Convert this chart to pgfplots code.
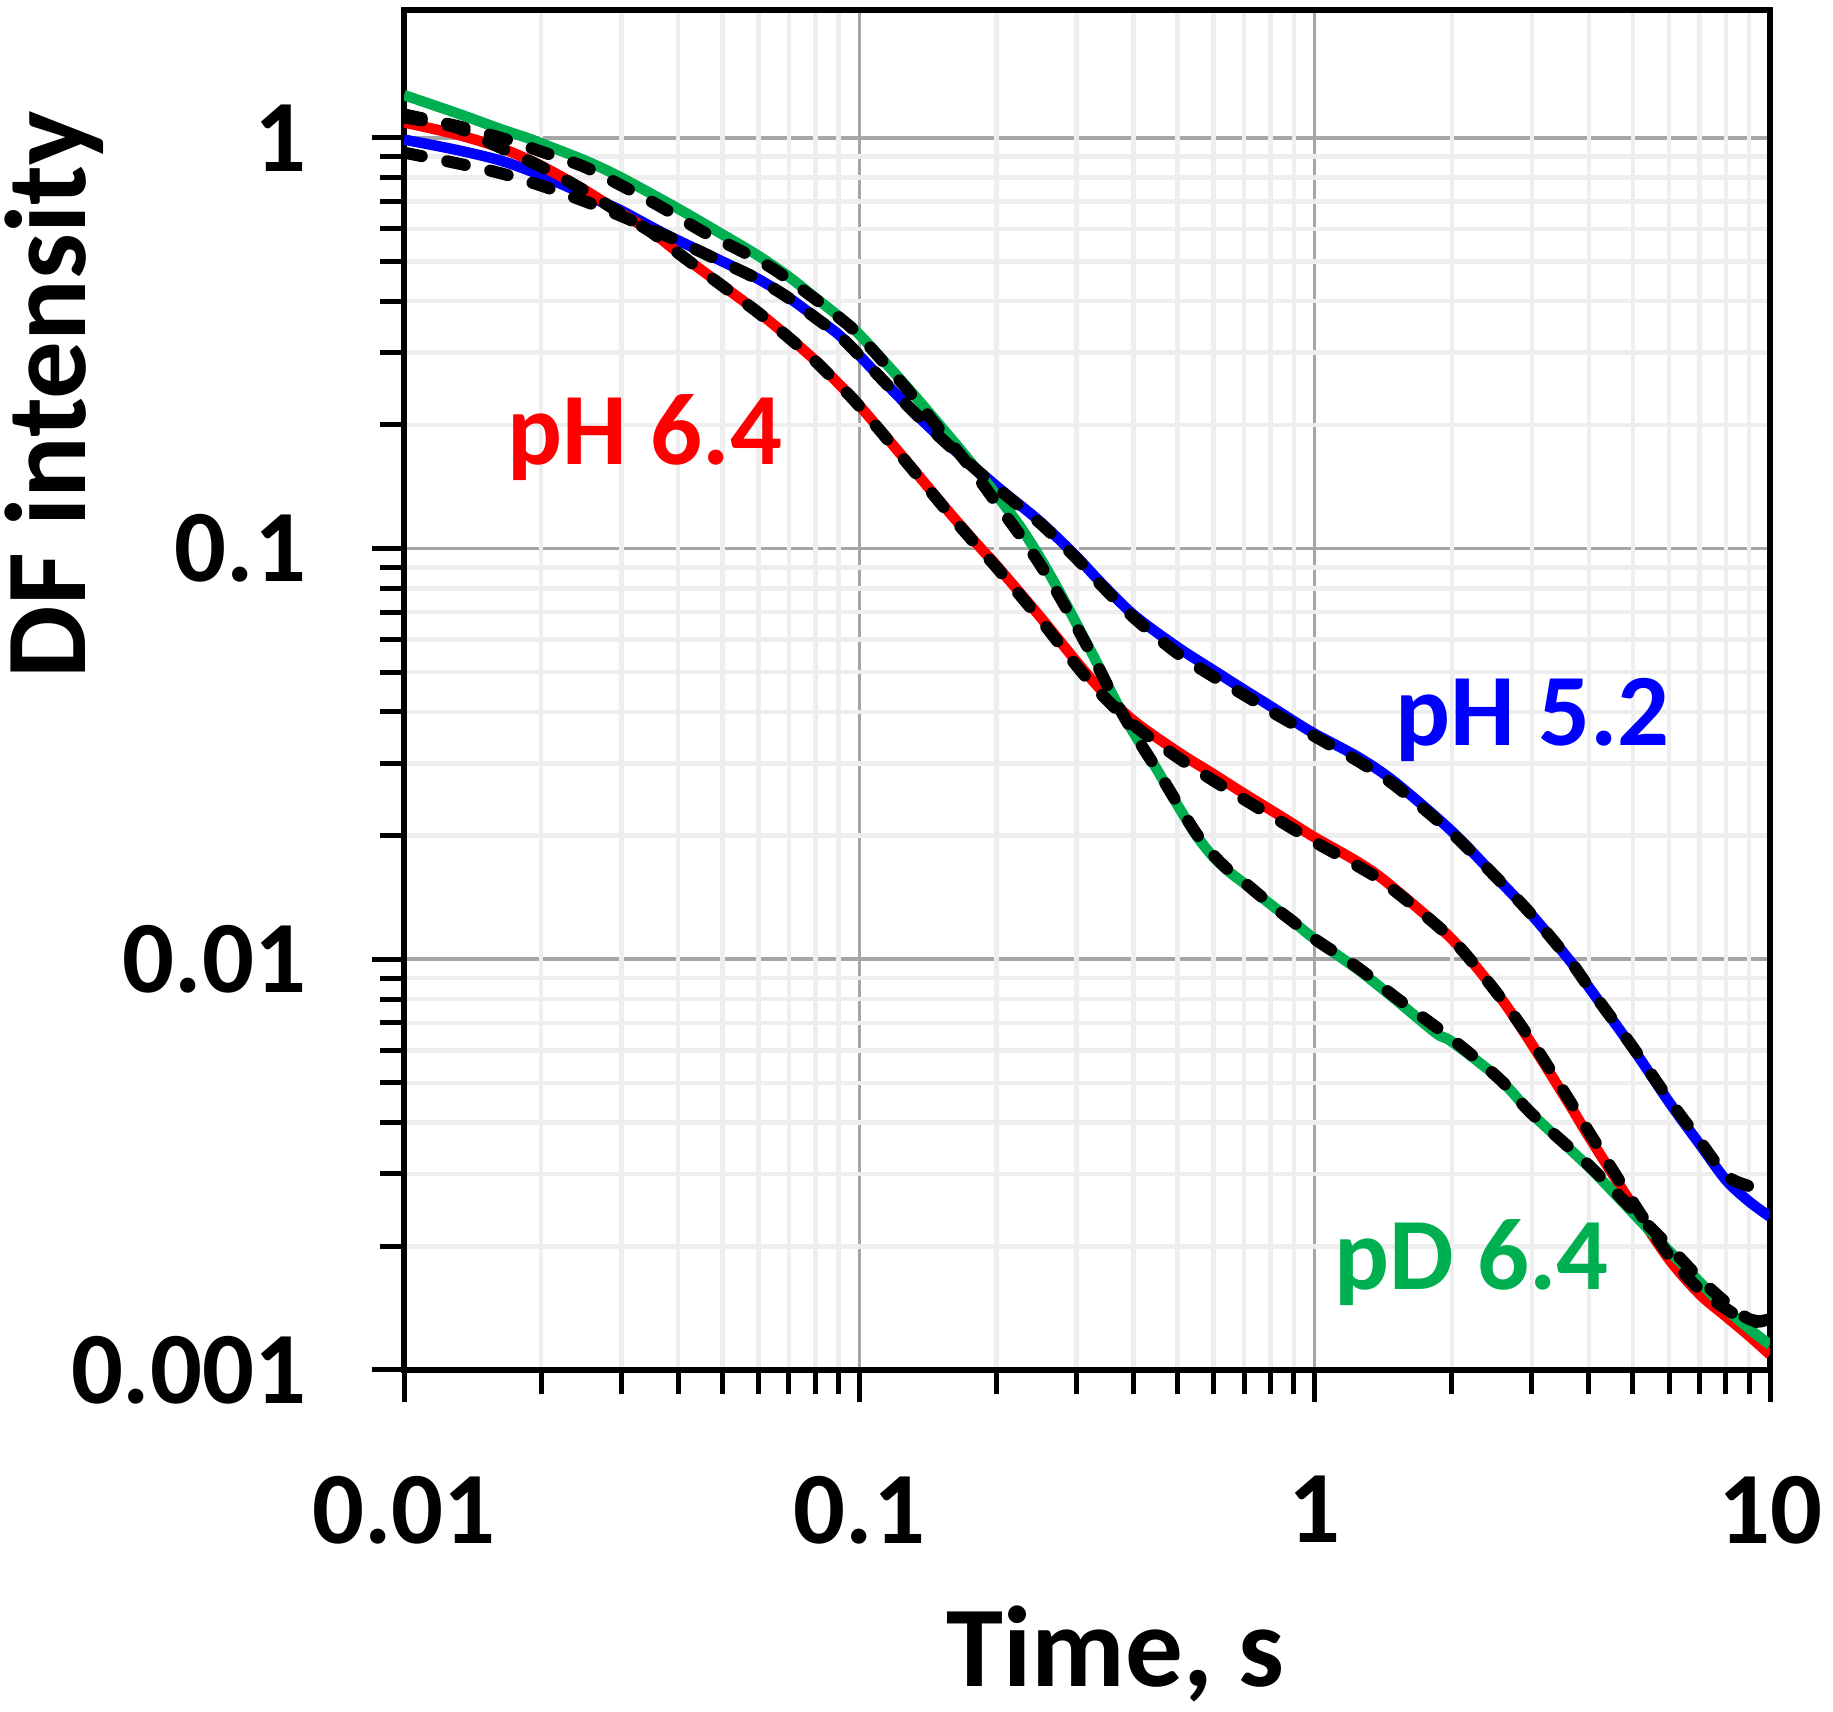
\documentclass[border=0pt]{standalone}
\usepackage{pgfplots}
\pgfplotsset{compat=1.18}
\usepackage{pgfplotstable}
\usepackage{fontspec}
\setmainfont{Carlito}
\definecolor{cRed}{RGB}{255,0,0}
\definecolor{cBlue}{RGB}{0,0,255}
\definecolor{cGreen}{RGB}{0,176,80}
\definecolor{majgrid}{RGB}{166,166,166}
\definecolor{mingrid}{RGB}{238,238,238}

\pgfplotstableread{
x y
0.01 0.99
0.013 0.935
0.0163 0.88
0.02 0.81
0.027 0.70
0.03 0.665
0.0378 0.58
0.05 0.50
0.06 0.453
0.07 0.408
0.08 0.366
0.09 0.332
0.1 0.295
0.123 0.232
0.15 0.187
0.2 0.142
0.25 0.116
0.3 0.0955
0.336 0.0835
0.4 0.069
0.5 0.0575
0.6 0.0505
0.7 0.0453
0.8 0.0413
0.9 0.0380
1.0 0.0354
1.25 0.031
1.5 0.027
2.0 0.0205
2.55 0.0155
3.0 0.0128
3.64 0.0099
4 0.00855
5 0.00606
6 0.00449
7 0.00355
8 0.00290
9 0.00257
10 0.00236
}\tblBlue

\pgfplotstableread{
x y
0.01 0.92
0.013 0.868
0.0163 0.82
0.02 0.765
0.025 0.70
0.031 0.635
0.04 0.56
0.05 0.498
0.06 0.452
0.07 0.407
0.08 0.365
0.09 0.331
0.1 0.295
0.123 0.232
0.15 0.187
0.2 0.141
0.25 0.115
0.3 0.0945
0.336 0.0825
0.4 0.068
0.5 0.0555
0.6 0.0487
0.7 0.0440
0.8 0.0402
0.9 0.0373
1.0 0.0349
1.25 0.0303
1.5 0.0265
2.0 0.0203
2.55 0.0155
3.0 0.0128
3.64 0.0099
4 0.00855
5 0.00610
6 0.00455
7 0.00362
8 0.00298
9 0.00280
10 0.00268
}\tblBlueFit

\pgfplotstableread{
x y
0.01 1.09
0.013 1.02
0.0163 0.945
0.02 0.855
0.025 0.745
0.03 0.655
0.035 0.59
0.04 0.525
0.05 0.437
0.06 0.376
0.07 0.327
0.08 0.287
0.09 0.252
0.1 0.223
0.127 0.163
0.158 0.122
0.185 0.100
0.2 0.091
0.25 0.068
0.3 0.0530
0.34 0.0452
0.4 0.0381
0.5 0.0320
0.6 0.0282
0.7 0.0253
0.8 0.0231
0.9 0.0213
1.0 0.0198
1.25 0.0172
1.45 0.0153
2.0 0.0112
2.55 0.0081
3.0 0.0062
3.64 0.0044
4 0.0037
5 0.00251
6 0.00186
7 0.00153
8 0.00135
9 0.00121
10 0.00109
}\tblRed

\pgfplotstableread{
x y
0.01 1.12
0.013 1.06
0.0163 0.945
0.02 0.85
0.025 0.742
0.03 0.653
0.035 0.588
0.04 0.524
0.05 0.436
0.06 0.375
0.07 0.326
0.08 0.286
0.09 0.251
0.1 0.222
0.127 0.162
0.158 0.121
0.185 0.099
0.2 0.090
0.25 0.067
0.3 0.0518
0.34 0.0442
0.4 0.0372
0.5 0.0310
0.6 0.0272
0.7 0.0245
0.8 0.0224
0.9 0.0207
1.0 0.0193
1.25 0.0168
1.45 0.0151
2.0 0.0112
2.55 0.0081
3.0 0.0063
3.64 0.0045
4 0.0038
5 0.00256
6 0.00190
7 0.00157
8 0.00141
9 0.00131
10 0.00133
}\tblRedFit

\pgfplotstableread{
x y
0.01 1.27
0.013 1.15
0.0163 1.05
0.0186 1.0
0.02 0.97
0.025 0.88
0.03 0.80
0.04 0.672
0.05 0.582
0.06 0.516
0.07 0.459
0.08 0.408
0.09 0.368
0.1 0.332
0.125 0.253
0.15 0.200
0.175 0.163
0.2 0.135
0.225 0.1135
0.25 0.0945
0.275 0.0785
0.3 0.0655
0.3365 0.0513
0.363 0.0432
0.4 0.0356
0.45 0.029
0.5 0.0237
0.55 0.0200
0.6 0.0177
0.65 0.0163
0.7 0.0153
0.8 0.0136
0.9 0.0123
1.0 0.0112
1.25 0.0094
1.5 0.0080
1.85 0.0066
2.0 0.0063
2.55 0.0051
3.0 0.0042
4 0.00312
5 0.00241
6 0.00195
7 0.00164
8 0.00141
9 0.00126
10 0.00115
}\tblGreen

\pgfplotstableread{
x y
0.01 1.14
0.013 1.07
0.0163 1.0
0.02 0.926
0.0248 0.851
0.0303 0.761
0.0371 0.674
0.0454 0.590
0.055 0.530
0.065 0.478
0.08 0.405
0.09 0.366
0.1 0.330
0.125 0.250
0.15 0.195
0.175 0.158
0.2 0.129
0.225 0.108
0.25 0.091
0.275 0.0765
0.3 0.0645
0.3365 0.0508
0.363 0.0430
0.4 0.0356
0.45 0.0290
0.5 0.0239
0.55 0.0202
0.6 0.0179
0.65 0.0164
0.7 0.0154
0.8 0.0136
0.9 0.0123
1.0 0.0112
1.25 0.0095
1.5 0.0081
2.0 0.0064
2.55 0.0051
3.0 0.0042
4 0.00315
5 0.00245
6 0.00200
7 0.00167
8 0.00146
9 0.00133
10 0.00131
}\tblGreenFit

\begin{document}
\begin{tikzpicture}
\begin{axis}[
  set layers,
  scale only axis,
  width=273.2pt, height=272.04pt,
  xmode=log, ymode=log,
  xmin=0.01, xmax=10, ymin=0.001, ymax=2.05,
  xtick={0.01,0.1,1,10}, xticklabels={0.01,0.1,1,10},
  ytick={0.001,0.01,0.1,1}, yticklabels={0.001,0.01,0.1,1},
  minor xtick={0.02,0.03,0.04,0.05,0.06,0.07,0.08,0.09,0.2,0.3,0.4,0.5,0.6,0.7,0.8,0.9,2,3,4,5,6,7,8,9},
  minor ytick={0.002,0.003,0.004,0.005,0.006,0.007,0.008,0.009,0.02,0.03,0.04,0.05,0.06,0.07,0.08,0.09,0.2,0.3,0.4,0.5,0.6,0.7,0.8,0.9},
  tick align=outside,
  tick pos=left,
  major tick length=6.4pt,
  minor tick length=4.8pt,
  every tick/.style={black, line width=1pt},
  axis line style={black, line width=1.1pt},
  xminorgrids=true, yminorgrids=true, xmajorgrids=true, ymajorgrids=false,
  major grid style={majgrid, line width=0.7pt},
  minor grid style={mingrid, line width=0.9pt},
  ticklabel style={font=\fontsize{20.5}{24}\selectfont\bfseries, inner sep=0pt},
  xticklabel style={anchor=north, yshift=-14.6pt},
  yticklabel style={anchor=east, xshift=-13pt},
  xlabel={Time, s},
  ylabel={DF intensity},
  xlabel style={at={(axis description cs:0.521,-0.233)}, anchor=base, font=\fontsize{23}{27}\selectfont\bfseries},
  ylabel style={at={(axis description cs:-0.233,0.717)}, anchor=base, font=\fontsize{23}{27}\selectfont\bfseries},
  clip=true,
]
\begin{pgfonlayer}{axis background}
\draw[majgrid, line width=0.7pt] (axis cs:0.01,1) -- (axis cs:10,1);
\draw[majgrid, line width=0.7pt] (axis cs:0.01,0.1) -- (axis cs:10,0.1);
\draw[majgrid, line width=0.7pt] (axis cs:0.01,0.01) -- (axis cs:10,0.01);
\end{pgfonlayer}

\addplot[cBlue, line width=2.1pt, smooth] table[x=x,y=y] {\tblBlue};
\addplot[cRed, line width=2.1pt, smooth] table[x=x,y=y] {\tblRed};
\addplot[cGreen, line width=2.1pt, smooth] table[x=x,y=y] {\tblGreen};
\addplot[black, line width=2.4pt, line cap=round, dash pattern=on 3.6pt off 5.2pt, smooth] table[x=x,y=y] {\tblBlueFit};
\addplot[black, line width=2.4pt, line cap=round, dash pattern=on 3.6pt off 5.2pt, smooth] table[x=x,y=y] {\tblRedFit};
\addplot[black, line width=2.4pt, line cap=round, dash pattern=on 3.6pt off 5.2pt, smooth] table[x=x,y=y] {\tblGreenFit};

\node[anchor=base, text=cRed, font=\fontsize{20.5}{24}\selectfont\bfseries] at (axis cs:0.0338,0.1603) {pH 6.4};
\node[anchor=base, text=cBlue, font=\fontsize{20.5}{24}\selectfont\bfseries] at (axis cs:3.01,0.0332) {pH 5.2};
\node[anchor=base, text=cGreen, font=\fontsize{20.5}{24}\selectfont\bfseries] at (axis cs:2.208,0.001567) {pD 6.4};

\coordinate (BBll) at (axis description cs:-0.2958,-0.2514);
\coordinate (BBur) at (axis description cs:1.0461,1.0072);
\end{axis}
\pgfresetboundingbox
\path (BBll) rectangle (BBur);
\end{tikzpicture}
\end{document}
